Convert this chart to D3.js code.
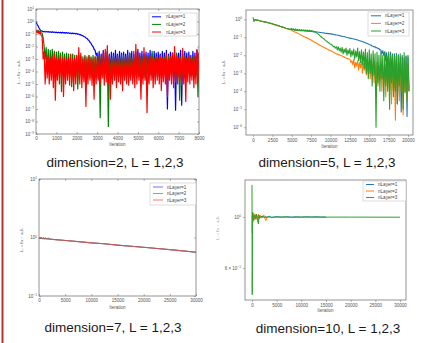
<!DOCTYPE html>
<html><head><meta charset="utf-8">
<script src="https://cdn.jsdelivr.net/npm/d3@7"></script>
<style>body{margin:0;background:#fff}svg{display:block}text{font-family:"Liberation Sans",Arial,sans-serif}</style>
</head><body><svg id="c" width="422" height="343"></svg>
<script>
const _ = null;
// ---------- Panel 1: dimension=2 (grid step 100 iterations, hi/lo envelope samples) ----------
const p1Step = 100;
const p1XTicks = [0,1000,2000,3000,4000,5000,6000,7000,8000];
const p1YExp = [1,0,-1,-2,-3,-4,-5,-6,-7,-8,-9];
const p1BlueHi = [1.0,0.45,0.22,0.17,0.16,0.16,0.155,0.15,0.15,0.145,
 0.14,0.14,0.135,0.135,0.13,0.13,0.125,0.12,0.12,0.115,
 0.11,0.1,0.09,0.075,0.06,0.045,0.03,0.018,0.01,5e-3,
 3e-3,4e-3,2.5e-3,5e-3,3e-3,4e-3,2.5e-3,3.5e-3,3e-3,5e-3,
 2.5e-3,4e-3,3e-3,3.5e-3,2.5e-3,5e-3,3e-3,4e-3,2.5e-3,3.5e-3,
 6e-3,3e-3,4e-3,2.5e-3,3.5e-3,3e-3,5e-3,2.5e-3,4e-3,3e-3,
 3.5e-3,2.5e-3,4e-3,3e-3,5e-3,2.5e-3,3.5e-3,3e-3,4e-3,2.5e-3,
 3e-3,5e-3,2.5e-3,4e-3,3e-3,3.5e-3,2e-3,4e-3,3e-3,5e-3,
 3e-3];
const p1BlueLo = [0.6,0.3,0.18,0.15,0.145,0.145,0.14,0.135,0.135,0.13,
 0.125,0.125,0.12,0.12,0.115,0.115,0.11,0.105,0.105,0.1,
 0.095,0.085,0.075,0.062,0.048,0.035,0.022,0.012,6e-3,2e-3,
 1e-4,5e-5,8e-5,3e-5,6e-5,4e-5,7e-5,3e-5,5e-5,8e-5,
 4e-5,6e-5,3e-5,5e-5,7e-5,4e-5,6e-5,3e-5,5e-5,8e-5,
 4e-5,6e-5,3e-5,5e-5,7e-5,4e-5,6e-5,3e-5,5e-5,8e-5,
 4e-5,6e-5,3e-5,5e-5,1e-7,4e-5,6e-5,3e-5,8e-8,5e-5,
 4e-5,2e-7,3e-5,5e-5,7e-5,4e-5,6e-5,3e-5,5e-5,8e-5,
 4e-5];
const p1GreenHi = [0.22,0.2,0.18,0.12,1e-2,8e-3,6e-3,5e-3,6e-3,4e-3,
 3.5e-3,4e-3,3e-3,3.5e-3,2.5e-3,3e-3,2.5e-3,2e-3,2.5e-3,2e-3,
 1.8e-3,2e-3,1.8e-3,1.5e-3,2e-3,1.5e-3,1.8e-3,1.5e-3,2e-3,1.5e-3,
 1.5e-3,1.2e-3,2e-3,1.5e-3,1.2e-3,4e-3,1.5e-3,1.2e-3,1.8e-3,1.2e-3,
 1.5e-3,1.2e-3,2e-3,1.2e-3,1.5e-3,1.2e-3,3e-3,1.2e-3,1.5e-3,1.2e-3,
 2e-3,1.2e-3,1.5e-3,1.2e-3,1.8e-3,1.2e-3,1.5e-3,4e-3,1.2e-3,1.5e-3,
 1.2e-3,2e-3,1.2e-3,1.5e-3,1.2e-3,1.8e-3,1.2e-3,1.5e-3,1.2e-3,3e-3,
 1.2e-3,1.5e-3,1.2e-3,2e-3,1.2e-3,1.5e-3,1.2e-3,1.8e-3,1.2e-3,1.5e-3,
 2e-3];
const p1GreenLo = [0.15,0.14,0.12,0.05,1e-3,1e-4,5e-5,8e-5,3e-5,6e-5,
 4e-5,8e-5,2.5e-6,5e-5,3e-5,6e-5,4e-5,6e-6,5e-5,3e-5,
 4e-6,5e-5,3e-5,6e-5,4e-5,5e-5,3e-5,6e-5,4e-5,5e-5,
 3e-5,2e-8,5e-5,4e-5,6e-5,4e-9,5e-5,3e-5,6e-5,4e-5,
 5e-5,3e-5,6e-5,4e-5,5e-5,3e-5,6e-5,4e-5,5e-5,3e-5,
 6e-5,4e-5,5e-5,3e-5,6e-5,4e-5,5e-5,3e-5,6e-5,4e-5,
 5e-5,3e-5,6e-5,4e-5,5e-5,3e-5,6e-5,4e-5,5e-5,3e-5,
 5e-7,4e-5,5e-5,3e-5,6e-5,4e-5,5e-5,3e-5,6e-5,1e-6,
 5e-5];
const p1RedHi = [0.2,0.18,0.15,0.06,4e-3,1.5e-3,2e-3,1e-3,1.5e-3,3e-3,
 1.2e-3,1e-3,2e-3,1e-3,1.5e-3,8e-4,1.2e-3,2.5e-3,1e-3,1.2e-3,
 2e-3,8e-3,3e-3,1e-3,1.5e-3,1e-3,2e-3,1.2e-3,1e-3,1.5e-3,
 1e-3,2e-3,1.2e-3,3e-3,6e-3,1.2e-2,2e-3,1e-3,1.5e-3,1e-3,
 2e-3,1.2e-3,1e-3,1.8e-3,1e-3,2e-3,1.2e-3,1e-3,4e-3,1.5e-2,
 3e-3,1.5e-3,1e-3,8e-3,1.5e-3,1e-3,2e-3,1.2e-3,1e-3,1.5e-3,
 1e-3,2e-3,1.2e-3,1e-3,2.5e-3,1e-3,1.5e-3,3e-3,1e-2,2e-3,
 1.2e-3,1e-3,7e-3,1.5e-3,1e-3,2e-3,1.2e-3,1e-3,1.5e-3,6e-3,
 3e-3];
const p1RedLo = [0.12,0.1,0.08,1e-3,1e-5,3e-5,1e-5,2e-5,5e-6,5e-7,
 2e-5,1e-5,3e-5,1e-6,1e-5,2e-5,8e-6,1.5e-5,3e-6,1e-5,
 2e-5,1e-5,5e-6,1.5e-5,1.6e-7,1e-5,2e-5,8e-6,6e-7,1e-5,
 2e-5,1e-5,3e-5,8e-6,1.5e-5,1e-5,6e-7,1e-5,2e-5,5e-6,
 1.5e-5,1e-5,3e-6,2e-5,1e-5,8e-6,2e-5,1e-5,5e-6,1e-5,
 2e-5,6e-7,1e-5,2e-5,5e-8,1e-5,2e-5,5e-6,1e-5,2e-5,
 1e-5,3e-6,1.5e-5,1e-5,1e-6,2e-5,1e-5,5e-6,1.5e-5,1e-5,
 2e-5,8e-6,1e-5,4e-7,1.5e-5,1e-5,2e-5,5e-6,1e-5,2e-5,
 3e-6];

// ---------- Panel 2: dimension=5 (grid step 250 iterations) ----------
const p2Step = 250;
const p2XTicks = [0,2500,5000,7500,10000,12500,15000,17500,20000];
const p2YExp = [0,-1,-2,-3,-4,-5,-6];
const p2BlueHi = [1.0,0.95,0.9,0.85,0.8,0.76,0.72,0.68,0.64,0.6,
 0.56,0.52,0.48,0.45,0.41,0.38,0.35,0.32,0.3,0.28,
 0.27,0.26,0.25,0.245,0.24,0.235,0.23,0.225,0.22,0.215,
 0.21,0.205,0.2,0.195,0.19,0.185,0.18,0.17,0.165,0.16,
 0.155,0.15,0.14,0.135,0.13,0.12,0.115,0.11,0.1,0.095,
 0.09,0.085,0.08,0.075,0.07,0.065,0.06,0.055,0.05,0.045,
 0.04,0.036,0.032,0.03,0.027,0.024,0.02,0.018,0.016,0.014,
 0.012,0.015,0.01,0.012,0.009,0.011,0.008,0.01,0.007,0.009,
 0.008];
const p2BlueLo = [_,_,_,_,_,_,_,_,_,_, _,_,_,_,_,_,_,_,_,_, _,_,_,_,_,_,_,_,_,_,
 _,_,_,_,_,_,_,_,_,_, _,_,_,_,_,_,_,_,_,_, _,_,_,_,_,_,_,_,_,_,
 _,0.033,0.029,0.026,0.023,0.02,0.012,0.01,0.005,0.002,
 5e-4,1e-3,1e-4,3e-4,2e-5,1e-4,7e-6,5e-5,1e-4,4e-6,
 1e-4];
const p2OrangeHi = [1.0,0.95,0.9,0.85,0.8,0.75,0.7,0.66,0.62,0.58,
 0.54,0.5,0.46,0.43,0.4,0.37,0.34,0.31,0.29,0.27,
 0.24,0.21,0.19,0.17,0.15,0.13,0.115,0.1,0.09,0.08,
 0.07,0.06,0.052,0.045,0.039,0.034,0.03,0.026,0.023,0.02,
 0.018,0.016,0.014,0.012,0.011,0.01,0.009,0.008,0.007,0.0065,
 0.006,0.005,0.006,0.004,0.005,0.004,0.0045,0.0035,0.004,0.003,
 0.004,0.003,0.0035,0.003,0.004,0.0025,0.003,0.0025,0.003,0.002,
 0.003,0.002,0.0025,0.002,0.003,0.002,0.0025,0.002,0.003,0.002,
 0.0025];
const p2OrangeLo = [_,_,_,_,_,_,_,_,_,_, _,_,_,_,_,_,_,_,_,_, _,_,_,_,_,_,_,_,_,_,
 _,_,_,_,_,_,_,_,_,_, _,_,_,_,_,_,_,_,_,_,
 0.004,0.003,0.002,0.0025,0.0015,0.002,0.001,0.0015,8e-4,0.001,
 5e-4,8e-4,3e-4,5e-4,2e-4,4e-4,1e-4,3e-4,5e-5,2e-4,
 1e-4,2e-5,1e-4,2.5e-6,2e-4,3e-5,1e-4,5e-6,1e-4,3e-5,
 1e-4];
const p2GreenHi = [1.3,0.95,0.9,0.85,0.8,0.76,0.72,0.68,0.64,0.6,
 0.56,0.52,0.48,0.45,0.41,0.38,0.35,0.32,0.3,0.28,
 0.31,0.3,0.29,0.28,0.27,0.27,0.26,0.26,0.25,0.25,
 0.24,0.23,0.21,0.17,0.14,0.11,0.09,0.075,0.06,0.05,
 0.042,0.036,0.032,0.03,0.03,0.025,0.028,0.022,0.025,0.02,
 0.024,0.018,0.022,0.017,0.025,0.016,0.02,0.015,0.022,0.014,
 0.02,0.012,0.018,0.012,0.015,0.01,0.016,0.01,0.014,0.009,
 0.015,0.01,0.012,0.008,0.013,0.009,0.012,0.008,0.014,0.009,
 0.01];
const p2GreenLo = [0.75,_,_,_,_,_,_,_,_,_, _,_,_,_,_,_,_,_,_,_,
 0.26,0.25,0.24,0.24,0.23,0.235,0.225,0.23,0.22,0.22,
 0.21,0.2,_,_,_,_,_,_,_,_,
 _,0.03,0.025,0.02,0.018,0.015,0.012,0.014,0.01,0.012,
 0.008,0.01,0.006,0.008,0.005,0.004,0.003,0.002,0.001,5e-4,
 1e-3,2e-4,8e-4,1e-6,3e-4,1e-4,5e-4,3e-5,2e-4,1e-4,
 1e-5,3e-4,5e-5,1e-4,2e-5,2e-4,1e-4,1e-5,8e-5,3e-5,
 1e-4];

// ---------- Panel 3: dimension=7 ([iteration, value]) ----------
const p3XTicks = [0,5000,10000,15000,20000,25000,30000];
const p3YExp = [1,0,-1];
const p3Blue = [[0,0.98],[600,0.96],[1200,0.97],[2500,0.93],[5000,0.89],[7500,0.85],[10000,0.81],[12500,0.78],[15000,0.74],[17500,0.71],[20000,0.68],[22500,0.65],[25000,0.62],[27500,0.59],[30000,0.56]];
const p3Green = [[0,1.0],[200,0.95],[400,1.02],[600,0.96],[800,1.01],[1000,0.94],[1200,0.99],[1500,0.95],[1800,0.98],[2100,0.93],[2500,0.93],[5000,0.89],[7500,0.85],[10000,0.81],[12500,0.78],[15000,0.74],[17500,0.71],[20000,0.68],[22500,0.65],[25000,0.62],[27500,0.59],[30000,0.56]];
const p3Red = [[0,0.97],[300,0.99],[700,0.95],[2500,0.93],[5000,0.89],[7500,0.85],[10000,0.81],[12500,0.78],[15000,0.74],[17500,0.71],[20000,0.68],[22500,0.65],[25000,0.62],[27500,0.59],[30000,0.56]];

// ---------- Panel 4: dimension=10 ([iteration, value]) ----------
const p4XTicks = [0,5000,10000,15000,20000,25000,30000];
const p4YTicks = [[1.0,"10","0"],[0.6,"6 \u00d7 10","\u22121"]];
const p4Blue = [[0,1.0],[200,1.03],[400,0.98],[600,1.02],[800,0.99],[1000,1.015],[1300,0.99],[1600,1.01],[2000,0.995],[2500,1.01],[3000,0.995],[3500,1.008],[4000,0.997],[5000,1.005],[6000,0.998],[7000,1.004],[8000,0.999],[9000,1.003],[10000,0.999],[11000,1.003],[12000,1.0],[13000,1.003],[14000,1.0],[15000,1.0]];
const p4Orange = [[0,0.85],[80,1.05],[200,0.95],[350,1.04],[500,0.97],[650,1.03],[800,0.98],[950,1.02],[1100,0.97],[1300,1.03],[1500,0.98],[1700,1.02],[2000,0.99],[2300,1.02],[2600,0.99],[2800,0.965],[3000,1.0]];
const p4Green = [[0,1.38],[40,0.46],[120,1.05],[300,0.97],[500,1.02],[700,0.98],[900,1.03],[1100,0.97],[1300,0.935],[1400,1.02],[1600,0.99],[2000,1.01],[2500,0.995],[3000,1.003],[4000,0.998],[6000,1.002],[8000,0.999],[10000,1.001],[14000,1.0],[20000,1.0],[30000,0.999]];

const legendLabels = ["nLayer=1","nLayer=2","nLayer=3"];
const titles = ["dimension=2, L = 1,2,3","dimension=5, L = 1,2,3","dimension=7, L = 1,2,3","dimension=10, L = 1,2,3"];
const classic = ["#0000ff","#008000","#ff0000"];
const tab = ["#1f77b4","#ff7f0e","#2ca02c"];
const yLabel = "L\u2082 = \u2016u \u2212 u\u2095\u2016\u2082";

function zig(step, hi, lo){
  const pts=[];
  hi.forEach((h,i)=>{ pts.push([i*step,h]); if(lo[i]!=null) pts.push([i*step+step/2, lo[i]]); });
  return pts;
}

const svg = d3.select("#c");
svg.append("rect").attr("width",422).attr("height",343).attr("fill","#fff");
svg.append("rect").attr("x",1.5).attr("y",0).attr("width",2).attr("height",343).attr("fill","#b83232");
const defs = svg.append("defs");

function supLabel(sel, base, exp){
  sel.append("tspan").text(base);
  sel.append("tspan").attr("dy",-1.6).attr("font-size",3.2).text(exp);
}

function drawPanel(o){
  const g = svg.append("g");
  const x = d3.scaleLinear().domain(o.xDomain).range([o.x0,o.x1]);
  const y = d3.scaleLog().domain(o.yDomain).range([o.y1,o.y0]);
  defs.append("clipPath").attr("id","cl"+o.id).append("rect")
    .attr("x",o.x0).attr("y",o.y0).attr("width",o.x1-o.x0).attr("height",o.y1-o.y0);
  const plot = g.append("g").attr("clip-path",`url(#cl${o.id})`);
  const line = d3.line().x(d=>x(d[0])).y(d=>y(d[1]));
  o.series.forEach(s=>{
    plot.append("path").attr("d",line(s.pts)).attr("fill","none")
      .attr("stroke",s.color).attr("stroke-width",s.w||1).attr("stroke-opacity",s.op||1)
      .attr("stroke-linejoin","round");
  });
  g.append("rect").attr("x",o.x0).attr("y",o.y0).attr("width",o.x1-o.x0).attr("height",o.y1-o.y0)
    .attr("fill","none").attr("stroke","#666").attr("stroke-width",0.7);
  const ts = o.tickIn ? -2 : 2;
  const ax = g.append("g").attr("transform",`translate(0,${o.y1})`)
    .call(d3.axisBottom(x).tickValues(o.xTicks).tickSize(ts).tickPadding(o.tickIn?3:2).tickFormat(d=>String(d)));
  const yTickVals = o.yTicks.map(t=>t[0]);
  const ay = g.append("g").attr("transform",`translate(${o.x0},0)`)
    .call(d3.axisLeft(y).tickValues(yTickVals).tickSize(ts).tickFormat(""));
  if(o.tickIn){
    g.append("g").attr("transform",`translate(0,${o.y0})`).call(d3.axisTop(x).tickValues(o.xTicks).tickSize(-2).tickFormat(""));
    g.append("g").attr("transform",`translate(${o.x1},0)`).call(d3.axisRight(y).tickValues(yTickVals).tickSize(-2).tickFormat(""));
  }
  g.selectAll(".domain").remove();
  g.selectAll(".tick line").attr("stroke","#666").attr("stroke-width",0.5);
  ax.selectAll("text").attr("font-size",4.5).attr("fill","#555").attr("font-family","Liberation Sans, Arial, sans-serif");
  o.yTicks.forEach(t=>{
    const tx = g.append("text").attr("x",o.x0-(o.tickIn?2:4)).attr("y",y(t[0])+1.6)
      .attr("text-anchor","end").attr("font-size",4.5).attr("fill","#555");
    supLabel(tx,t[1],t[2]);
  });
  g.append("text").attr("x",(o.x0+o.x1)/2+o.xlabDx).attr("y",o.y1+o.xlabDy).attr("text-anchor","middle")
    .attr("font-size",4.5).attr("fill","#555").text("Iteration");
  g.append("text").attr("transform",`translate(${o.ylabX},${o.ylabY}) rotate(-90)`).attr("text-anchor","middle")
    .attr("font-size",4).attr("fill",o.ylabFill||"#666").text(yLabel);
  // legend
  const L = o.legend;
  g.append("rect").attr("x",L.x).attr("y",L.y).attr("width",L.w).attr("height",L.h)
    .attr("fill","#fff").attr("stroke","#bbb").attr("stroke-width",0.5);
  legendLabels.forEach((lab,i)=>{
    const yy = L.y + L.r0 + i*L.dr;
    g.append("line").attr("x1",L.x+L.l0).attr("x2",L.x+L.l1).attr("y1",yy).attr("y2",yy)
      .attr("stroke",o.colors[i]).attr("stroke-width",1).attr("stroke-opacity",o.legOp||1);
    g.append("text").attr("x",L.x+L.t).attr("y",yy+1.6).attr("font-size",4.6).attr("fill","#444").text(lab);
  });
  svg.append("text").attr("x",o.titleX).attr("y",o.titleY).attr("text-anchor","middle")
    .attr("font-size",13.5).attr("fill","#1a1a1a").text(o.title);
}

const expLabel = e => [Math.pow(10,e),"10", e<0 ? "\u2212"+(-e) : String(e)];

drawPanel({id:1,x0:36,x1:199,y0:9,y1:134,xDomain:[0,8000],yDomain:[1e-9,10],tickIn:true,
  xTicks:p1XTicks,yTicks:p1YExp.map(expLabel),colors:classic,
  series:[{pts:zig(p1Step,p1BlueHi,p1BlueLo),color:classic[0],w:1.2},
          {pts:zig(p1Step,p1GreenHi,p1GreenLo),color:classic[1],w:1.2},
          {pts:zig(p1Step,p1RedHi,p1RedLo),color:classic[2],w:1.2}],
  legend:{x:149,y:13,w:48,h:23,r0:3.8,dr:7.6,l0:3,l1:12,t:17},
  xlabDx:0,xlabDy:11.5,ylabX:20,ylabY:72,title:titles[0],titleX:115,titleY:167});

drawPanel({id:2,x0:246,x1:413,xDomain:[-903,20645],y0:10,y1:135,yDomain:[Math.pow(10,-6.43),Math.pow(10,0.517)],tickIn:false,
  xTicks:p2XTicks,yTicks:p2YExp.map(expLabel),colors:tab,
  series:[{pts:zig(p2Step,p2BlueHi,p2BlueLo),color:tab[0],w:1.1},
          {pts:zig(p2Step,p2OrangeHi,p2OrangeLo),color:tab[1],w:1.1},
          {pts:zig(p2Step,p2GreenHi,p2GreenLo),color:tab[2],w:1.1}],
  legend:{x:368,y:12,w:41,h:24,r0:3.8,dr:7.6,l0:3,l1:13,t:17},
  xlabDx:0,xlabDy:12.5,ylabX:225,ylabY:72,title:titles[1],titleX:327,titleY:167});

drawPanel({id:3,x0:39,x1:196,y0:179,y1:296,xDomain:[0,30000],yDomain:[0.1,10],tickIn:true,legOp:0.55,
  xTicks:p3XTicks,yTicks:p3YExp.map(expLabel),colors:classic,
  series:[{pts:p3Blue,color:classic[0],op:0.5},{pts:p3Green,color:classic[1],op:0.6},{pts:p3Red,color:"#e05050",op:0.85,w:1.1}],
  legend:{x:150,y:183,w:46,h:22,r0:4,dr:6.5,l0:3,l1:13,t:17},
  xlabDx:0,xlabDy:12.5,ylabX:23,ylabY:240,title:titles[2],titleX:113,titleY:332});

drawPanel({id:4,x0:245,x1:406,y0:180,y1:300,xDomain:[-1419,31216],yDomain:[0.436,1.45],tickIn:false,
  xTicks:p4XTicks,yTicks:p4YTicks,colors:tab,
  series:[{pts:p4Blue,color:tab[0]},{pts:p4Orange,color:tab[1]},{pts:p4Green,color:tab[2]}],
  legend:{x:363,y:181,w:43,h:20,r0:3.5,dr:6.5,l0:3,l1:11,t:15},
  xlabDx:0,xlabDy:11.5,ylabX:219,ylabY:228,ylabFill:"#aaa",title:titles[3],titleX:328,titleY:333});
</script></body></html>
